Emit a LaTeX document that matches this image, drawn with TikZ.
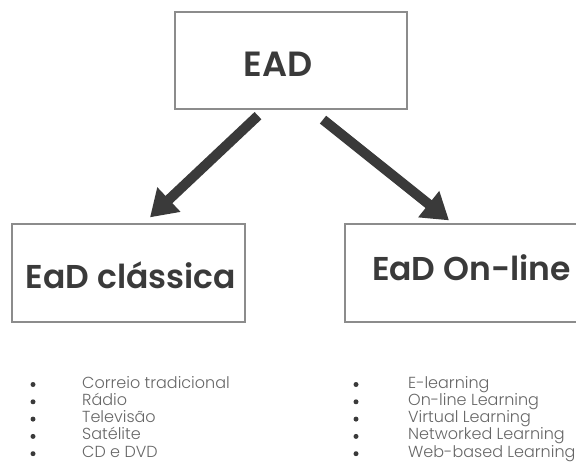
\documentclass[tikz,border=0pt]{standalone}
\usepackage{fontspec}
\setmainfont{Poppins}[BoldFont={Poppins SemiBold}]
\newfontfamily\listfont{Poppins Light}
\usepackage{tikz}
\usetikzlibrary{positioning,arrows.meta}
\definecolor{boxgray}{HTML}{8C8C8C}
\definecolor{inkgray}{HTML}{3A3A3A}
\definecolor{listgray}{HTML}{666666}
\tikzstyle{box}=[draw=boxgray, line width=1.3pt, rectangle, inner sep=0pt, minimum width=233pt, minimum height=98pt]
\tikzstyle{headtext}=[font=\fontsize{33}{33}\selectfont\bfseries, text=inkgray, inner sep=0pt]
\tikzstyle{listitem}=[font=\fontsize{16}{16}\selectfont\listfont, text=listgray, anchor=base west, inner sep=0pt]
\tikzstyle{listdot}=[circle, fill=inkgray, inner sep=0pt, minimum size=5pt]
\tikzstyle{fat}=[line width=10pt, draw=inkgray, -{Triangle[width=32pt,length=26pt]}]

\begin{document}
\begin{tikzpicture}[x=1pt,y=-1pt]
\useasboundingbox (0,0) rectangle (576,474);
\node[box, minimum width=232pt, minimum height=97pt] (ead) at (291,60.5) {};
\node[headtext, font=\fontsize{35}{35}\selectfont\bfseries] (eadtext) at ([xshift=-13pt,yshift=-3.5pt]ead.center) {EAD};

\node[box] (classica) at (128.5,273) {};
\node[headtext] (classicatext) at ([xshift=2.5pt,yshift=-2pt]classica.center) {EaD clássica};
\node[box, minimum width=253pt] (online) at (471.5,273) {};
\node[headtext] (onlinetext) at ([yshift=5pt]online.center) {EaD On-line};

\draw[fat] ([xshift=-33pt,yshift=-6pt]ead.south) -- ([xshift=21.5pt,yshift=6pt]classica.north);
\draw[fat] ([xshift=32pt,yshift=-10pt]ead.south) -- ([xshift=-22.5pt,yshift=3pt]online.north);

% listas
\foreach \txt [count=\i from 0] in {Correio tradicional, Rádio, Televisão, Satélite, CD e DVD} {
  \node[listdot] (ldot\i) at (33, 384.5+17.3*\i) {};
  \node[listitem] (ltext\i) at (82, 388+17.3*\i) {\txt};
}
\foreach \txt [count=\i from 0] in {E-learning, On-line Learning, Virtual Learning, Networked Learning, Web-based Learning} {
  \node[listdot] (rdot\i) at (356, 384.5+17.3*\i) {};
  \node[listitem] (rtext\i) at (408, 388+17.3*\i) {\txt};
}
\end{tikzpicture}
\end{document}
